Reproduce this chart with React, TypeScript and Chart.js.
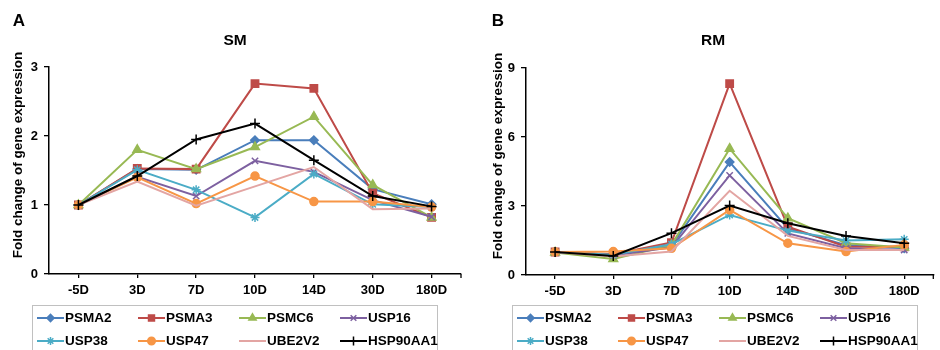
import { useEffect, useRef } from 'react';
import { Chart, registerables } from 'chart.js';
import { drawPoint } from 'chart.js/helpers';

Chart.register(...registerables);

const FONT = "'Liberation Sans', Arial, Helvetica, sans-serif";

// ---------- data ----------
const categories = ['-5D', '3D', '7D', '10D', '14D', '30D', '180D'];
const genes = ['PSMA2', 'PSMA3', 'PSMC6', 'USP16', 'USP38', 'USP47', 'UBE2V2', 'HSP90AA1'];
const yAxisTitle = 'Fold change of gene expression';

// SM (panel A)
const psma2SM = [1, 1.52, 1.51, 1.94, 1.94, 1.23, 1.01];
const psma3SM = [1, 1.53, 1.52, 2.76, 2.69, 1.17, 0.82];
const psmc6SM = [1, 1.8, 1.52, 1.84, 2.28, 1.29, 0.82];
const usp16SM = [1, 1.41, 1.13, 1.64, 1.48, 1.07, 0.83];
const usp38SM = [1, 1.51, 1.22, 0.82, 1.45, 1.01, 0.97];
const usp47SM = [1, 1.4, 1.02, 1.42, 1.05, 1.05, 0.97];
const ube2v2SM = [1, 1.34, 0.99, 1.27, 1.55, 0.94, 0.95];
const hsp90SM = [1, 1.42, 1.95, 2.18, 1.65, 1.13, 0.98];
const yTicksSM = [0, 1, 2, 3];

// RM (panel B)
const psma2RM = [1, 0.88, 1.27, 4.91, 2.03, 1.3, 1.16];
const psma3RM = [1, 0.9, 1.41, 8.32, 2.1, 1.23, 1.23];
const psmc6RM = [0.98, 0.7, 1.3, 5.49, 2.47, 1.38, 1.2];
const usp16RM = [1, 0.85, 1.2, 4.33, 1.81, 1.16, 1.09];
const usp38RM = [1, 0.88, 1.34, 2.61, 1.93, 1.5, 1.55];
const usp47RM = [1, 1.02, 1.16, 2.83, 1.38, 1.02, 1.31];
const ube2v2RM = [1, 0.8, 1.02, 3.66, 1.7, 1.09, 1.09];
const hsp90RM = [1, 0.83, 1.82, 3.02, 2.25, 1.7, 1.38];
const yTicksRM = [0, 3, 6, 9];

// ---------- styles ----------
const colors = ['#4A7EBB', '#BE4B48', '#98B954', '#7D60A0', '#4BACC6', '#F79646', '#E3A5A3', '#000000'];
const pointStyles = ['rectRot', 'rect', 'triangle', 'crossRot', 'star', 'circle', 'line', 'cross'];
const pointRadii = [4.2, 5.2, 5, 4.5, 4.5, 4, 0, 5];
const legendRadii = [3.6, 4.2, 4.2, 4, 4, 3.8, 0, 4.5];

const W = 470;
const H = 350;
const XH = 30;

const overlay = {
  id: 'overlay',
  afterDraw(chart: any, _args: any, opts: any) {
    const ctx = chart.ctx as CanvasRenderingContext2D;
    const a = chart.chartArea;
    ctx.save();
    ctx.fillStyle = '#000';
    ctx.textAlign = 'center';
    ctx.textBaseline = 'middle';
    ctx.font = `bold 17px ${FONT}`;
    ctx.fillText(opts.letter, opts.letterX, 21);
    ctx.font = `bold 15.5px ${FONT}`;
    ctx.fillText(opts.title, opts.titleX, 41);
    ctx.save();
    ctx.translate(opts.yTitleX, opts.yTitleY);
    ctx.rotate(-Math.PI / 2);
    ctx.font = `bold 13.5px ${FONT}`;
    ctx.fillText(yAxisTitle, 0, 0);
    ctx.restore();

    // end tick on x axis
    ctx.strokeStyle = '#000';
    ctx.lineWidth = 1.3;
    ctx.beginPath();
    ctx.moveTo(a.right, a.bottom);
    ctx.lineTo(a.right, a.bottom + 4);
    ctx.stroke();

    // legend
    const L = opts.legendLeft;
    ctx.strokeStyle = '#C0C0C0';
    ctx.lineWidth = 1;
    ctx.strokeRect(L + 0.5, 305.5, 405, 60);
    ctx.textAlign = 'left';
    ctx.font = `bold 13.5px ${FONT}`;
    genes.forEach((g, i) => {
      const col = i % 4;
      const row = Math.floor(i / 4);
      const x0 = L + 5 + col * 101;
      const y = row === 0 ? 318 : 341;
      ctx.strokeStyle = colors[i];
      ctx.fillStyle = colors[i];
      ctx.lineWidth = 2;
      ctx.beginPath();
      ctx.moveTo(x0, y);
      ctx.lineTo(x0 + 27, y);
      ctx.stroke();
      if (legendRadii[i] > 0) {
        ctx.lineWidth = 1.5;
        drawPoint(ctx, { pointStyle: pointStyles[i], radius: legendRadii[i], borderWidth: 1.5, rotation: 0 } as any, x0 + 13.5, y);
      }
      ctx.fillStyle = '#000';
      ctx.fillText(g, x0 + 28, y + 0.5);
    });
    ctx.restore();
  },
};

type PanelProps = {
  letter: string;
  title: string;
  series: number[][];
  yTicks: number[];
  area: { left: number; right: number; top: number; bottom: number };
  letterX: number;
  titleX: number;
  yTitleX: number;
  yTitleY: number;
  legendLeft: number;
};

function Panel(p: PanelProps) {
  const ref = useRef<HTMLCanvasElement>(null);
  useEffect(() => {
    if (!ref.current) return;
    const tickFont = { family: FONT, size: 13, weight: 'bold' as const };
    const yMax = p.yTicks[p.yTicks.length - 1];
    const step = p.yTicks[1] - p.yTicks[0];
    const chart = new Chart(ref.current, {
      type: 'line',
      data: {
        labels: categories,
        datasets: p.series.map((d, i) => ({
          label: genes[i],
          data: d,
          borderColor: colors[i],
          backgroundColor: colors[i],
          borderWidth: 2,
          pointStyle: pointStyles[i] as any,
          pointRadius: pointRadii[i],
          pointBorderWidth: 1.5,
          pointBackgroundColor: colors[i],
          pointBorderColor: colors[i],
          tension: 0,
          fill: false,
          order: genes.length - i,
        })),
      },
      options: {
        responsive: false,
        animation: false,
        devicePixelRatio: 1,
        layout: {
          padding: { left: 0, right: W - p.area.right, top: p.area.top, bottom: H - p.area.bottom - XH },
        },
        plugins: {
          legend: { display: false },
          title: { display: false },
          tooltip: { enabled: false },
          overlay: {
            letter: p.letter,
            title: p.title,
            letterX: p.letterX,
            titleX: p.titleX,
            yTitleX: p.yTitleX,
            yTitleY: p.yTitleY,
            legendLeft: p.legendLeft,
          },
        } as any,
        scales: {
          x: {
            type: 'category',
            offset: true,
            grid: {
              display: true,
              drawOnChartArea: false,
              drawTicks: true,
              tickLength: 4,
              color: '#000',
              lineWidth: 1.3,
              offset: false,
            },
            border: { display: true, color: '#000', width: 1.5 },
            ticks: { font: tickFont, color: '#000', padding: 5, maxRotation: 0, autoSkip: false },
            afterFit: (s: any) => {
              s.height = XH;
            },
          },
          y: {
            min: 0,
            max: yMax,
            afterBuildTicks: (s: any) => {
              s.ticks = p.yTicks.map((v) => ({ value: v }));
            },
            ticks: { stepSize: step, font: tickFont, color: '#000', padding: 6 },
            grid: { display: true, drawOnChartArea: false, drawTicks: true, tickLength: 5, color: '#000', lineWidth: 1.3 },
            border: { display: true, color: '#000', width: 1.5 },
            afterFit: (s: any) => {
              s.width = p.area.left;
            },
          },
        },
      },
      plugins: [overlay as any],
    });
    return () => chart.destroy();
  }, []);
  return <canvas ref={ref} width={W} height={H} style={{ display: 'block', width: W, height: H }} />;
}

export default function App() {
  return (
    <div style={{ position: 'absolute', left: 0, top: 0, width: 940, height: 350, display: 'flex', background: '#fff' }}>
      <Panel
        letter="A"
        title="SM"
        series={[psma2SM, psma3SM, psmc6SM, usp16SM, usp38SM, usp47SM, ube2v2SM, hsp90SM]}
        yTicks={yTicksSM}
        area={{ left: 49, right: 461, top: 67, bottom: 274 }}
        letterX={19}
        titleX={235}
        yTitleX={18}
        yTitleY={155}
        legendLeft={32}
      />
      <Panel
        letter="B"
        title="RM"
        series={[psma2RM, psma3RM, psmc6RM, usp16RM, usp38RM, usp47RM, ube2v2RM, hsp90RM]}
        yTicks={yTicksRM}
        area={{ left: 56, right: 469, top: 68, bottom: 275 }}
        letterX={28}
        titleX={243}
        yTitleX={28}
        yTitleY={156}
        legendLeft={42}
      />
    </div>
  );
}
